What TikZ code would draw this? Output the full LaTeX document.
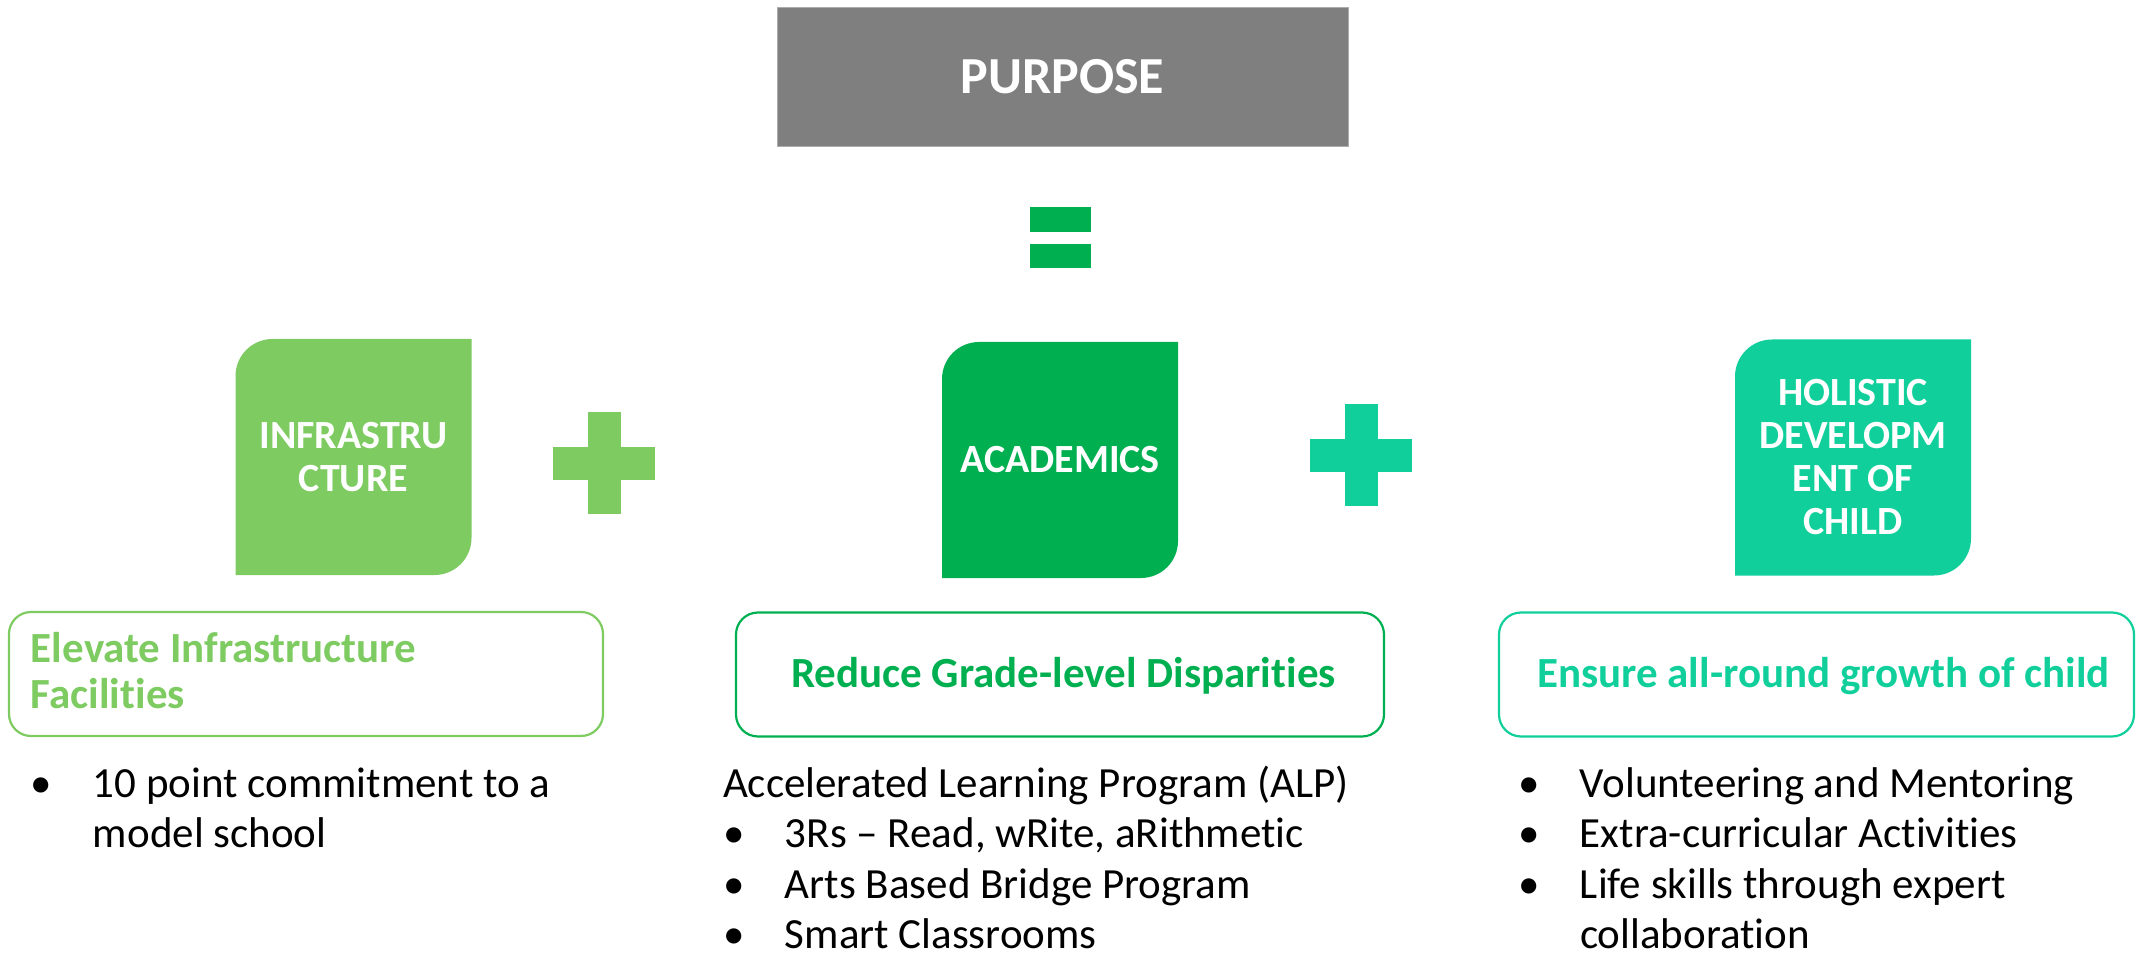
\documentclass[tikz,border=0pt]{standalone}
\usepackage{fontspec}
\setmainfont{Carlito}[Ligatures={TeX,NoCommon}, Contextuals=NoAlternate]
\definecolor{infragreen}{HTML}{7DCB61}
\definecolor{acadgreen}{HTML}{00B050}
\definecolor{holteal}{HTML}{10CF9B}
\definecolor{purposegray}{HTML}{7F7F7F}
\newcommand{\bull}{\makebox[31pt][l]{\textbullet}}
\newcommand{\plussign}[3]{\fill[#3] (#1-51,#2-16.5) rectangle (#1+51,#2+16.5);
 \fill[#3] (#1-16.5,#2-51) rectangle (#1+16.5,#2+51);}

\begin{document}
\begin{tikzpicture}[x=0.5pt, y=-0.5pt,
 every node/.style={inner sep=0pt, outer sep=0pt},
 leaf/.style={fill=white, minimum width=118pt, minimum height=118pt, align=center, text=white,
  font=\bfseries\fontsize{20}{21.5}\selectfont,
  path picture={\fill[#1] (path picture bounding box.south west)
   -- ([yshift=-18.5pt]path picture bounding box.north west)
   arc[start angle=180, end angle=90, radius=18.5pt]
   -- (path picture bounding box.north east)
   -- ([yshift=18.5pt]path picture bounding box.south east)
   arc[start angle=0, end angle=-90, radius=18.5pt] -- cycle;}},
 goalbox/.style={draw=#1, line width=1.1pt, rounded corners=11pt, minimum height=62pt},
 goaltext/.style={text=#1, font=\bfseries\fontsize{21.5}{23}\selectfont},
 listtext/.style={anchor=base west, font=\fontsize{21.5}{25.3}\selectfont}]

 \useasboundingbox (0,0) rectangle (2137,957);

 \node[fill=purposegray, draw=gray!65, minimum width=285.5pt, minimum height=69.5pt, text=white,
  font=\bfseries\fontsize{26}{30}\selectfont] (purpose) at (1062.5,76.5) {PURPOSE};
 \fill[acadgreen] (1030,207) rectangle (1091,232);
 \fill[acadgreen] (1030,244) rectangle (1091,268);

 \node[leaf=infragreen] (infra) at (353.5,457) {INFRASTRU\\CTURE};
 \node[leaf=acadgreen] (acad) at (1060,460) {ACADEMICS};
 \node[leaf=holteal] (holistic) at (1853,457.5) {HOLISTIC\\DEVELOPM\\ENT OF\\CHILD};
 \plussign{604}{463}{infragreen}
 \plussign{1361}{455}{holteal}

 \node[goalbox=infragreen, minimum width=297pt] (elevate) at (306,674) {};
 \node[goalbox=acadgreen, minimum width=324pt] (grade) at (1060,674.5) {};
 \node[goalbox=holteal, minimum width=317.5pt] (growth) at (1816.5,674.5) {};
 \node[goaltext=infragreen, anchor=base west] (elevatetext) at (31,662)
  {\begin{tabular}[t]{@{}l@{}}Elevate Infrastructure\\Facilities\end{tabular}};
 \node[goaltext=acadgreen, anchor=base] (gradetext) at (1063.5,687) {Reduce Grade-level Disparities};
 \node[goaltext=holteal, anchor=base] (growthtext) at (1823.5,687) {Ensure all-round growth of child};

 \node[listtext] (infralist) at (31,797) {\begin{tabular}[t]{@{}l@{}}
  \bull 10 point commitment to a\\ \hspace*{31pt}model school\end{tabular}};
 \node[listtext] (acadlist) at (723,797) {\begin{tabular}[t]{@{}l@{}}
  Accelerated Learning Program (ALP)\\ \bull 3Rs – Read, wRite, aRithmetic\\
  \bull Arts Based Bridge Program\\ \bull Smart Classrooms\end{tabular}};
 \node[listtext] (growthlist) at (1518,797) {\begin{tabular}[t]{@{}l@{}}
  \bull Volunteering and Mentoring\\ \bull Extra-curricular Activities\\
  \bull Life skills through expert\\ \hspace*{31pt}collaboration\end{tabular}};
\end{tikzpicture}
\end{document}
